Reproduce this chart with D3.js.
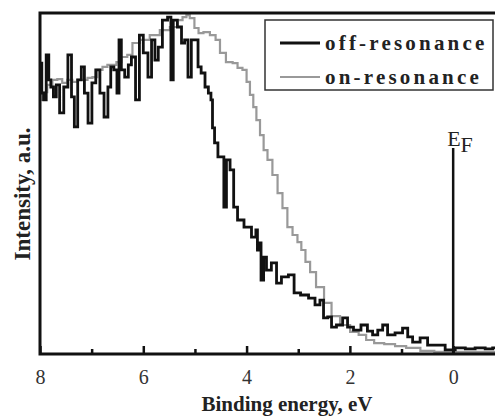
<!DOCTYPE html>
<html>
<head>
<meta charset="utf-8">
<script src="https://cdn.jsdelivr.net/npm/d3@7"></script>
<style>
  body { margin: 0; background: #fff; }
  svg text { font-family: "Liberation Serif", "Times New Roman", serif !important; }
</style>
</head>
<body>
<svg id="chart" width="495" height="416"></svg>
<script>
// off-resonance (黑线)
const offEnergy = [8.00, 7.98, 7.95, 7.91, 7.85, 7.81, 7.77, 7.71, 7.66, 7.58, 7.50, 7.42, 7.36, 7.31, 7.23, 7.17, 7.11, 7.03, 6.96, 6.88,
    6.80, 6.72, 6.65, 6.61, 6.53, 6.49, 6.45, 6.40, 6.32, 6.26, 6.20, 6.10, 6.05, 5.95, 5.87, 5.81, 5.74, 5.68, 5.58, 5.48,
    5.45, 5.39, 5.29, 5.23, 5.17, 5.10, 5.04, 4.96, 4.92, 4.84, 4.77, 4.71, 4.67, 4.65, 4.59, 4.52, 4.46, 4.42, 4.36, 4.28,
    4.22, 4.13, 3.97, 3.84, 3.80, 3.78, 3.74, 3.70, 3.64, 3.59, 3.45, 3.39, 3.26, 3.12, 3.04, 2.87, 2.73, 2.62, 2.54, 2.48,
    2.38, 2.33, 2.19, 2.09, 2.00, 1.86, 1.71, 1.61, 1.51, 1.41, 1.32, 1.22, 1.03, 0.93, 0.83, 0.74, 0.54, 0.45, 0.25, 0.06,
    -0.14, -0.33, -0.52, -0.72, -0.81];
const offIntensity = [81.8, 85.3, 76.5, 74.5, 87.7, 80.4, 78.3, 75.4, 78.9, 70.7, 78.3, 87.7, 75.4, 66.6, 80.4, 84.2, 76.5, 67.7, 79.5, 83.3,
    76.5, 69.5, 78.3, 84.2, 83.3, 76.5, 92.1, 83.3, 81.2, 84.8, 87.1, 74.5, 93.5, 88.3, 81.2, 92.1, 86.2, 90.0, 97.9, 98.8,
    80.4, 97.9, 95.9, 91.2, 92.1, 81.2, 92.1, 92.1, 84.2, 82.4, 78.3, 76.5, 74.5, 66.3, 61.9, 57.8, 57.8, 43.1, 56.9, 54.0,
    43.1, 39.3, 37.2, 34.3, 36.4, 30.5, 32.6, 21.7, 28.4, 24.6, 26.7, 20.8, 22.6, 23.2, 17.9, 17.3, 16.4, 14.4, 15.8, 10.6,
    10.9, 7.9, 8.5, 10.6, 7.9, 7.0, 8.5, 6.7, 5.6, 7.0, 8.5, 5.6, 6.2, 7.6, 5.0, 3.5, 4.7, 2.6, 2.6, 1.2,
    1.8, 1.5, 1.8, 1.5, 1.8];

// on-resonance (灰线)
const onEnergy = [8.00, 7.97, 7.91, 7.81, 7.71, 7.62, 7.52, 7.42, 7.33, 7.23, 7.13, 7.03, 6.94, 6.84, 6.74, 6.65, 6.55, 6.49, 6.36, 6.26,
    6.16, 5.97, 5.78, 5.58, 5.39, 5.29, 5.19, 5.14, 5.06, 4.96, 4.90, 4.77, 4.65, 4.55, 4.48, 4.32, 4.22, 4.13, 4.03, 3.97,
    3.90, 3.84, 3.78, 3.70, 3.64, 3.55, 3.45, 3.35, 3.26, 3.16, 3.06, 2.97, 2.91, 2.81, 2.73, 2.58, 2.42, 2.29, 2.09, 1.90,
    1.76, 1.61, 1.45, 1.22, 1.03, 0.79, 0.48, 0.25, 0.00, -0.33, -0.81];
const onIntensity = [76.0, 74.5, 76.8, 78.9, 80.4, 80.6, 79.5, 80.4, 79.8, 80.4, 80.4, 81.0, 81.2, 83.3, 84.2, 84.8, 84.8, 85.6, 87.1, 87.7,
    91.2, 92.1, 93.5, 95.0, 95.9, 97.9, 98.8, 99.4, 98.5, 95.6, 94.1, 94.4, 93.5, 92.1, 88.3, 85.6, 85.3, 83.9, 83.3, 79.8,
    76.0, 72.4, 68.6, 64.2, 59.8, 56.9, 52.5, 47.2, 42.8, 37.2, 34.9, 32.8, 30.5, 27.0, 24.0, 19.6, 15.0, 11.1, 8.5, 6.5,
    5.6, 4.1, 3.2, 2.9, 2.3, 1.8, 0.9, 0.6, 0.6, 0.6, 0.6];

const majorTicks = [8, 6, 4, 2, 0];
const minorTicks = [7, 5, 3, 1];
const legendLabels = ["off-resonance", "on-resonance"];
const fermiLevel = 0;

const serif = "'Liberation Serif', 'Times New Roman', serif";

function drawChart() {
    const svg = d3.select("#chart");
    const margin = { top: 13, right: 0, bottom: 62, left: 40 };
    const width = 495 - margin.left - margin.right;
    const height = 416 - margin.top - margin.bottom;

    const chart = svg.append("g")
        .attr("transform", `translate(${margin.left},${margin.top})`);

    const xScale = d3.scaleLinear()
        .domain([8, -0.81])
        .range([0, width]);

    const yScale = d3.scaleLinear()
        .domain([0, 100])
        .range([height, 0]);

    const line = d3.line()
        .x(d => xScale(d[0]))
        .y(d => yScale(d[1]))
        .curve(d3.curveStep);

    const onData = onEnergy.map((e, i) => [e, onIntensity[i]]);
    const offData = offEnergy.map((e, i) => [e, offIntensity[i]]);

    // 谱线
    chart.append("path")
        .datum(onData)
        .attr("fill", "none")
        .attr("stroke", "#999")
        .attr("stroke-width", 2.2)
        .attr("d", line);

    chart.append("path")
        .datum(offData)
        .attr("fill", "none")
        .attr("stroke", "#111")
        .attr("stroke-width", 2.8)
        .attr("d", line);

    // E_F 竖线
    chart.append("line")
        .attr("x1", xScale(fermiLevel)).attr("x2", xScale(fermiLevel))
        .attr("y1", 135).attr("y2", height)
        .attr("stroke", "#111")
        .attr("stroke-width", 2.5);

    const ef = chart.append("text")
        .attr("x", xScale(fermiLevel) - 6)
        .attr("y", 133)
        .style("font-family", serif)
        .style("font-size", "22px")
        .attr("fill", "#222");
    ef.append("tspan").text("E");
    ef.append("tspan").attr("dy", 6).text("F");

    // 坐标轴
    const xAxis = d3.axisBottom(xScale)
        .tickValues(majorTicks)
        .tickSize(-8)
        .tickPadding(16)
        .tickFormat(d3.format("d"));

    const gx = chart.append("g")
        .attr("transform", `translate(0,${height})`)
        .call(xAxis)
        .attr("font-family", serif);
    gx.select(".domain").remove();
    gx.selectAll(".tick line").attr("stroke", "#111").attr("stroke-width", 2.5);
    gx.selectAll(".tick text")
        .style("font-family", serif)
        .style("font-size", "20px")
        .attr("fill", "#333");

    chart.append("g")
        .attr("transform", `translate(0,${height})`)
        .call(d3.axisBottom(xScale).tickValues(minorTicks).tickSize(-5).tickFormat(""))
        .call(g => g.select(".domain").remove())
        .selectAll(".tick line").attr("stroke", "#111").attr("stroke-width", 2.5);

    // 边框: 左、上、下
    chart.append("path")
        .attr("d", `M${width},0H0V${height}H${width}`)
        .attr("fill", "none")
        .attr("stroke", "#111")
        .attr("stroke-width", 3);

    // 图例
    const legend = chart.append("g")
        .attr("transform", `translate(${265 - margin.left},${20 - margin.top})`);
    legend.append("rect")
        .attr("width", 228).attr("height", 70)
        .attr("fill", "#fff")
        .attr("stroke", "#333")
        .attr("stroke-width", 1.5);
    const colors = ["#111", "#999"];
    const widths = [2.8, 2.2];
    legendLabels.forEach((label, i) => {
        const y = 23 + i * 34;
        legend.append("line")
            .attr("x1", 15).attr("x2", 55)
            .attr("y1", y).attr("y2", y)
            .attr("stroke", colors[i])
            .attr("stroke-width", widths[i]);
        legend.append("text")
            .attr("x", 60)
            .attr("y", y + 7)
            .style("font-family", serif)
            .style("font-size", "21px")
            .style("font-weight", "bold")
            .style("letter-spacing", "3.2px")
            .attr("fill", "#222")
            .text(label);
    });

    // 轴标题
    svg.append("text")
        .attr("x", 287)
        .attr("y", 411)
        .attr("text-anchor", "middle")
        .style("font-family", serif)
        .style("font-size", "21px")
        .style("font-weight", "bold")
        .attr("fill", "#222")
        .text("Binding energy, eV");

    svg.append("text")
        .attr("transform", "translate(30,194) rotate(-90)")
        .attr("text-anchor", "middle")
        .style("font-family", serif)
        .style("font-size", "23px")
        .style("font-weight", "bold")
        .attr("fill", "#222")
        .text("Intensity, a.u.");
}

drawChart();
</script>
</body>
</html>
